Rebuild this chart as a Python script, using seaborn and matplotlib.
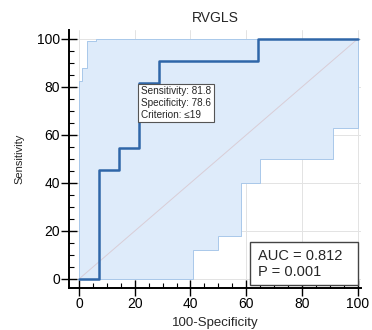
import matplotlib
matplotlib.use("Agg")
import matplotlib.pyplot as plt
import seaborn as sns
import pandas as pd
from matplotlib.ticker import MultipleLocator
from matplotlib.patches import Rectangle

# ROC curve (100-Specificity, Sensitivity)
roc_x = [0, 7.1, 7.1, 14.3, 14.3, 21.4, 21.4, 28.6, 28.6, 64.3, 64.3, 100]
roc_y = [0, 0, 45.5, 45.5, 54.5, 54.5, 81.8, 81.8, 90.9, 90.9, 100, 100]

# Confidence band upper bound
upper_x = [0, 0, 1, 1, 3, 3, 6, 6, 100]
upper_y = [0, 82.5, 82.5, 88, 88, 99, 99, 100, 100]

# Confidence band lower bound
lower_x = [0, 41, 41, 50, 50, 58, 58, 65, 65, 91, 91, 100, 100]
lower_y = [0, 0, 12, 12, 18, 18, 40, 40, 50, 50, 63, 63, 100]

diag = [0, 100]
criterion_x, criterion_y = 21.4, 81.8
crit_text = ["Sensitivity: 81.8", "Specificity: 78.6", "Criterion: \u226419"]
auc_text = ["AUC = 0.812", "P = 0.001"]

sns.set_style("white")
plt.rcParams['font.family'] = ['Liberation Sans', 'DejaVu Sans']

fig = plt.figure(figsize=(3.72, 3.30), dpi=100)
ax = fig.add_axes([0.1855, 0.1273, 0.785, 0.782])

# confidence band as polygon
poly_x = upper_x + lower_x[::-1]
poly_y = upper_y + lower_y[::-1]
ax.fill(poly_x, poly_y, color="#deebfa", zorder=1, lw=0)
sns.lineplot(x=upper_x, y=upper_y, sort=False, estimator=None, ax=ax,
             color="#a9c8ea", lw=0.7, zorder=2)
sns.lineplot(x=lower_x, y=lower_y, sort=False, estimator=None, ax=ax,
             color="#a9c8ea", lw=0.7, zorder=2)
sns.lineplot(x=diag, y=diag, sort=False, estimator=None, ax=ax,
             color="#d9cdd6", lw=0.7, zorder=2)
sns.lineplot(x=roc_x, y=roc_y, sort=False, estimator=None, ax=ax,
             color="#2f66a8", lw=1.8, zorder=4)

ax.set_xlim(-3.6, 101.2)
ax.set_ylim(-3.75, 103.75)
ax.xaxis.set_major_locator(MultipleLocator(20))
ax.yaxis.set_major_locator(MultipleLocator(20))
ax.xaxis.set_minor_locator(MultipleLocator(5))
ax.yaxis.set_minor_locator(MultipleLocator(5))
ax.grid(True, which="major", color="#e3e3e3", lw=0.7, zorder=0)
ax.set_axisbelow(True)
for s in ["top", "right"]:
    ax.spines[s].set_visible(False)
for s in ["left", "bottom"]:
    ax.spines[s].set_color("black")
    ax.spines[s].set_linewidth(1.4)
ax.tick_params(which="major", direction="inout", length=11, width=1, colors="black",
               labelsize=10, pad=1, left=True, bottom=True)
ax.tick_params(which="minor", direction="in", length=3.5, width=0.8, colors="black",
               left=True, bottom=True)

ax.set_title("RVGLS", fontsize=10, pad=6)
ax.set_xlabel("100-Specificity", fontsize=9.5, labelpad=4)
ax.set_ylabel("Sensitivity", fontsize=8, labelpad=9)

ax.text(criterion_x + 0.8, criterion_y - 1.6, "\n".join(crit_text), fontsize=7.2,
        va="top", ha="left", zorder=6, linespacing=1.2,
        bbox=dict(boxstyle="square,pad=0.25", fc="white", ec="#555555", lw=0.8))

ax.add_patch(Rectangle((0.62, 0.0116), 0.37, 0.166, transform=ax.transAxes,
                       fc="white", ec="#444444", lw=1.0, zorder=5))
ax.text(0.647, 0.093, "\n".join(auc_text), transform=ax.transAxes, fontsize=10.5,
        va="center", ha="left", zorder=6, linespacing=1.25)

fig.savefig("out.png", dpi=100)
